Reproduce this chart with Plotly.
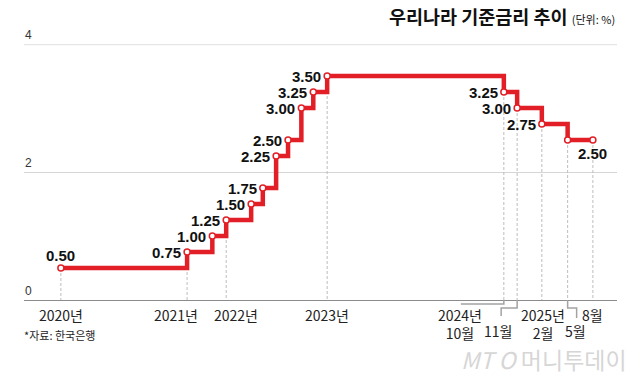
import plotly.graph_objects as go

# ---- data ----
change_dates = ["2020-05-28", "2021-08-26", "2021-11-25", "2022-01-14", "2022-04-14",
                "2022-05-26", "2022-07-13", "2022-08-25", "2022-10-12", "2022-11-24",
                "2023-01-13", "2024-10-11", "2024-11-28", "2025-02-25", "2025-05-29",
                "2025-08-28"]
rates = [0.50, 0.75, 1.00, 1.25, 1.50, 1.75, 2.25, 2.50, 3.00, 3.25,
         3.50, 3.25, 3.00, 2.75, 2.50, 2.50]
rate_labels = ["0.50", "0.75", "1.00", "1.25", "1.50", "1.75", "2.25", "2.50", "3.00", "3.25",
               "3.50", "3.25", "3.00", "2.75", "", "2.50"]

# x-axis labels (date they refer to, text)
xlab_dates = ["2020-05-28", "2021-08-26", "2022-01-14", "2023-01-13", "2024-10-11",
              "2024-11-28", "2025-02-25", "2025-05-29", "2025-08-28"]
xlab_texts = ["2020년", "2021년", "2022년", "2023년", "2024년<br>10월",
              "11월", "2025년<br>2월", "5월", "8월"]

# dates that get a dashed guide line
guide_dates = ["2020-05-28", "2021-08-26", "2022-01-14", "2023-01-13", "2024-10-11",
               "2024-11-28", "2025-02-25", "2025-05-29", "2025-08-28"]

y_ticks = [0, 2, 4]
y_tick_text = ["0", "2", "4"]

# ---- layout helpers (positions / styles) ----
label_pos = ["top"] + ["left"] * 13 + ["none", "bottom"]
xlab_rows = [1, 1, 1, 1, 1, 2, 1, 2, 1]
xlab_shift = [0, -11, 10, 0, -44, -19, 1, 8, 0]

RED = "#e21f26"
rate_of = dict(zip(change_dates, rates))

fig = go.Figure()

# dashed guide lines from points down to the baseline
gx, gy = [], []
for d in guide_dates:
    gx += [d, d, None]
    gy += [rate_of[d], 0, None]
fig.add_trace(go.Scatter(x=gx, y=gy, mode="lines",
                         line=dict(color="#bdbdbd", width=1, dash="3px,2px"),
                         hoverinfo="skip", showlegend=False))

# step line
fig.add_trace(go.Scatter(x=change_dates, y=rates, mode="lines+markers",
                         line=dict(color=RED, width=4.5, shape="hv"),
                         marker=dict(size=6, color="white", line=dict(color=RED, width=1.5)),
                         showlegend=False))

ann = []
num_font = dict(family="Liberation Sans, Arial", size=15, color="#111")
for d, v, t, p in zip(change_dates, rates, rate_labels, label_pos):
    if p == "none" or not t:
        continue
    a = dict(x=d, y=v, xref="x", yref="y", text="<b>%s</b>" % t, showarrow=False, font=num_font)
    if p == "left":
        a.update(xanchor="right", yanchor="middle", xshift=-4, yshift=0)
    elif p == "top":
        a.update(xanchor="center", yanchor="bottom", yshift=2)
    elif p == "bottom":
        a.update(xanchor="center", yanchor="top", yshift=-3)
    ann.append(a)

# y tick labels (above their grid lines, at the left edge)
for v, t in zip(y_ticks, y_tick_text):
    ann.append(dict(x=0, xref="paper", y=v, yref="y", text=t, showarrow=False,
                    xanchor="left", yanchor="bottom", xshift=-1, yshift=0,
                    font=dict(family="Liberation Sans, Arial", size=12, color="#333")))

lab_font = dict(family="Liberation Sans Narrow, Noto Sans CJK KR", size=14, color="#222")
for d, t, r, s in zip(xlab_dates, xlab_texts, xlab_rows, xlab_shift):
    ann.append(dict(x=d, xref="x", y=0, yref="paper", text=t, showarrow=False,
                    xanchor="center", yanchor="top", xshift=s, align="center",
                    yshift=-3 if r == 1 else -19, font=lab_font))

# title
ann.append(dict(x=1, xref="paper", y=1, yref="paper", xanchor="right", yanchor="middle",
                yshift=28, showarrow=False,
                text="<b>우리나라 기준금리 추이</b> <span style='font-size:11px'>(단위: %)</span>",
                font=dict(family="Noto Sans CJK KR", size=18.5, color="#111")))
# source
ann.append(dict(x=0, xref="paper", y=0, yref="paper", xanchor="left", yanchor="middle",
                yshift=-35, xshift=-2, showarrow=False, text="*자료: 한국은행",
                font=dict(family="Noto Sans CJK KR", size=11, color="#222")))
# watermark
ann.append(dict(x=1, xref="paper", y=0, yref="paper", xanchor="right", yanchor="middle",
                xshift=12, yshift=-59, showarrow=False, text="<i>MT O</i> 머니투데이",
                font=dict(family="Noto Sans CJK KR", size=23, color="#d6d6d6")))

shapes = [
    dict(type="line", xref="paper", yref="y", x0=0, x1=1, y0=4, y1=4,
         line=dict(color="#e6e6e6", width=2.5), layer="below"),
]
bracket = dict(type="path", xref="x", yref="paper", xsizemode="pixel", ysizemode="pixel",
               yanchor=0, line=dict(color="#a3a3a3", width=1.5))
shapes.append(dict(bracket, xanchor="2024-10-11", path="M-43,-4 H0 V0"))
shapes.append(dict(bracket, xanchor="2024-11-28", path="M-16,-16 V-8 H0 V0"))
shapes.append(dict(bracket, xanchor="2025-05-29", path="M0,0 V-8 H9 V-18"))

fig.update_layout(
    width=640, height=377,
    margin=dict(l=24, r=23, t=44, b=77),
    paper_bgcolor="white", plot_bgcolor="white",
    annotations=ann, shapes=shapes,
    xaxis=dict(type="date", range=["2020-01-16", "2025-11-23"], showticklabels=False,
               showgrid=False, zeroline=False, showline=True, linecolor="#8c8c8c",
               linewidth=1.3, ticks=""),
    yaxis=dict(range=[0, 4], tickvals=y_ticks, showticklabels=False, ticks="", showgrid=True,
               gridcolor="#d6d6d6", gridwidth=1, zeroline=False, showline=False),
)

fig.write_html("out.html", config={"displayModeBar": False},
               post_script="document.body.style.margin='0px';")
